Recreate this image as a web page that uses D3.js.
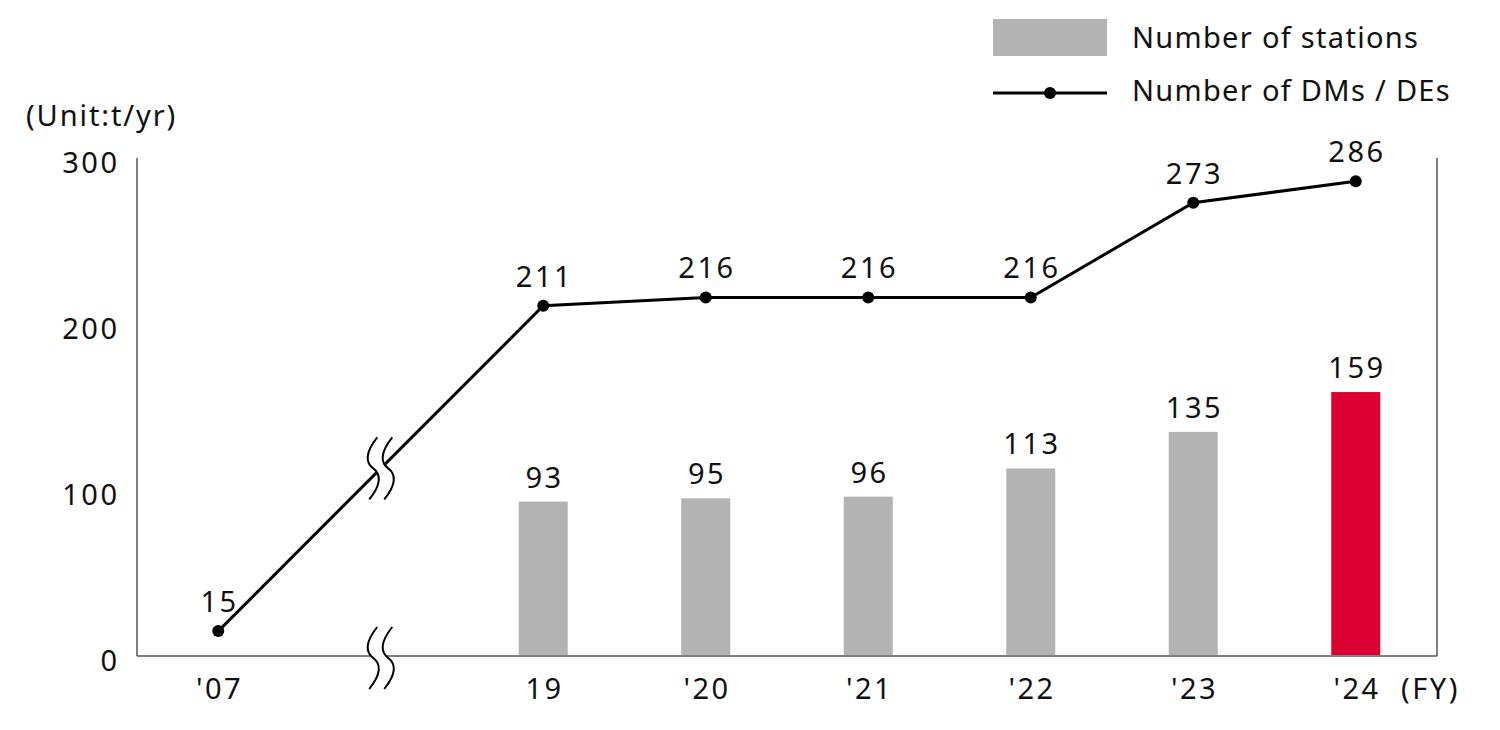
<!DOCTYPE html>
<html><head><meta charset="utf-8">
<script src="https://cdn.jsdelivr.net/npm/d3@7"></script>
<style>
html,body{margin:0;padding:0;background:#fff;}
text{font-family:"Noto Sans",sans-serif;fill:#111;}
</style></head>
<body><svg id="c" width="1500" height="730"></svg>
<script>
const categories = ["'07", "", "19", "'20", "'21", "'22", "'23", "'24"];
const stations = [0.6, null, 93, 95, 96, 113, 135, 159];
const dms = [15, null, 211, 216, 216, 216, 273, 286];
const yTicks = [0, 100, 200, 300];
const highlight = "'24";

(function () {
const svg = d3.select("#c");
const pLeft = 137, pRight = 1437, pTop = 158, pBottom = 656;
const x = d3.scaleBand().domain(d3.range(categories.length)).range([pLeft, pRight]);
const y = d3.scaleLinear().domain([0, 300]).range([pBottom, pTop]);
const cx = i => x(i) + x.bandwidth() / 2;
const fs = 29;
const numLS = 2.5, txtLS = 1.3;
// helper: centred text with letter-spacing compensation
const cen = (sel, ls) => sel.attr("text-anchor", "middle").attr("letter-spacing", ls).attr("dx", ls / 2);

// bars
const barW = 49;
svg.append("g").selectAll("rect")
  .data(stations.map((v, i) => ({v, i})).filter(d => d.v != null))
  .join("rect")
  .attr("x", d => cx(d.i) - barW / 2)
  .attr("width", barW)
  .attr("y", d => y(d.v))
  .attr("height", d => y(0) - y(d.v))
  .attr("fill", d => categories[d.i] === highlight ? "#dc0032" : "#b3b3b3");

// axes frame
svg.append("line").attr("x1", pLeft).attr("x2", pRight).attr("y1", pBottom).attr("y2", pBottom)
  .attr("stroke", "#808080").attr("stroke-width", 2);
svg.append("line").attr("x1", pLeft).attr("x2", pLeft).attr("y1", pTop).attr("y2", pBottom)
  .attr("stroke", "#555").attr("stroke-width", 1.5);
svg.append("line").attr("x1", pRight).attr("x2", pRight).attr("y1", pTop).attr("y2", pBottom)
  .attr("stroke", "#555").attr("stroke-width", 1.5);

// y ticks
svg.append("g").selectAll("text").data(yTicks).join("text")
  .attr("x", 117 + numLS).attr("y", d => y(d) + 15)
  .attr("letter-spacing", numLS)
  .attr("text-anchor", "end").attr("font-size", fs).text(d => d);

// bar labels
cen(svg.append("g").selectAll("text")
  .data(stations.map((v, i) => ({v, i})).filter(d => d.v != null && d.v >= 1))
  .join("text")
  .attr("x", d => cx(d.i)).attr("y", d => y(d.v) - 14)
  .attr("font-size", fs).text(d => d.v), numLS);

// line
const pts = dms.map((v, i) => ({v, i})).filter(d => d.v != null);
const line = d3.line().x(d => cx(d.i)).y(d => y(d.v));
svg.append("path").datum(pts).attr("d", line)
  .attr("fill", "none").attr("stroke", "#000").attr("stroke-width", 3);
svg.append("g").selectAll("circle").data(pts).join("circle")
  .attr("cx", d => cx(d.i)).attr("cy", d => y(d.v)).attr("r", 6).attr("fill", "#000");
cen(svg.append("g").selectAll("text").data(pts).join("text")
  .attr("x", d => cx(d.i)).attr("y", d => y(d.v) - 19)
  .attr("font-size", fs).text(d => d.v), numLS);

// break marks
function breakMark(px, py) {
  const g = svg.append("g").attr("transform", `translate(${px},${py})`);
  const wave = (ox) => `M${ox + 4},-31 C${ox - 8},-16 ${ox - 8},-6 ${ox},0 C${ox + 8},6 ${ox + 8},16 ${ox - 4},31`;
  const gap = 15;
  g.append("path")
    .attr("d", wave(-gap / 2) + ` L${gap / 2 - 4},31 ` +
      `C${gap / 2 + 8},16 ${gap / 2 + 8},6 ${gap / 2},0 C${gap / 2 - 8},-6 ${gap / 2 - 8},-16 ${gap / 2 + 4},-31 Z`)
    .attr("fill", "#fff").attr("stroke", "none");
  [-gap / 2, gap / 2].forEach(o => g.append("path").attr("d", wave(o))
    .attr("fill", "none").attr("stroke", "#000").attr("stroke-width", 2));
}
const bi = 1;
const p0 = pts[0], p1 = pts[1];
const t = (cx(bi) - cx(p0.i)) / (cx(p1.i) - cx(p0.i));
breakMark(cx(bi), y(p0.v) + t * (y(p1.v) - y(p0.v)));
breakMark(cx(bi), pBottom + 2);

// x labels
cen(svg.append("g").selectAll("text").data(categories.map((c, i) => ({c, i})).filter(d => d.c))
  .join("text")
  .attr("x", d => cx(d.i)).attr("y", 699)
  .attr("font-size", fs).text(d => d.c), numLS);
svg.append("text").attr("x", 1401).attr("y", 699).attr("font-size", fs)
  .attr("letter-spacing", numLS).text("(FY)");
svg.append("text").attr("x", 26).attr("y", 126).attr("font-size", fs)
  .attr("letter-spacing", txtLS + 0.6).text("(Unit:t/yr)");

// legend
svg.append("rect").attr("x", 993).attr("y", 19).attr("width", 114).attr("height", 37).attr("fill", "#b3b3b3");
svg.append("text").attr("x", 1132).attr("y", 48).attr("font-size", fs)
  .attr("letter-spacing", txtLS).text("Number of stations");
svg.append("line").attr("x1", 993).attr("x2", 1107).attr("y1", 93).attr("y2", 93)
  .attr("stroke", "#000").attr("stroke-width", 3);
svg.append("circle").attr("cx", 1050).attr("cy", 93).attr("r", 6).attr("fill", "#000");
svg.append("text").attr("x", 1132).attr("y", 101).attr("font-size", fs)
  .attr("letter-spacing", txtLS).text("Number of DMs / DEs");
})();
</script></body></html>
